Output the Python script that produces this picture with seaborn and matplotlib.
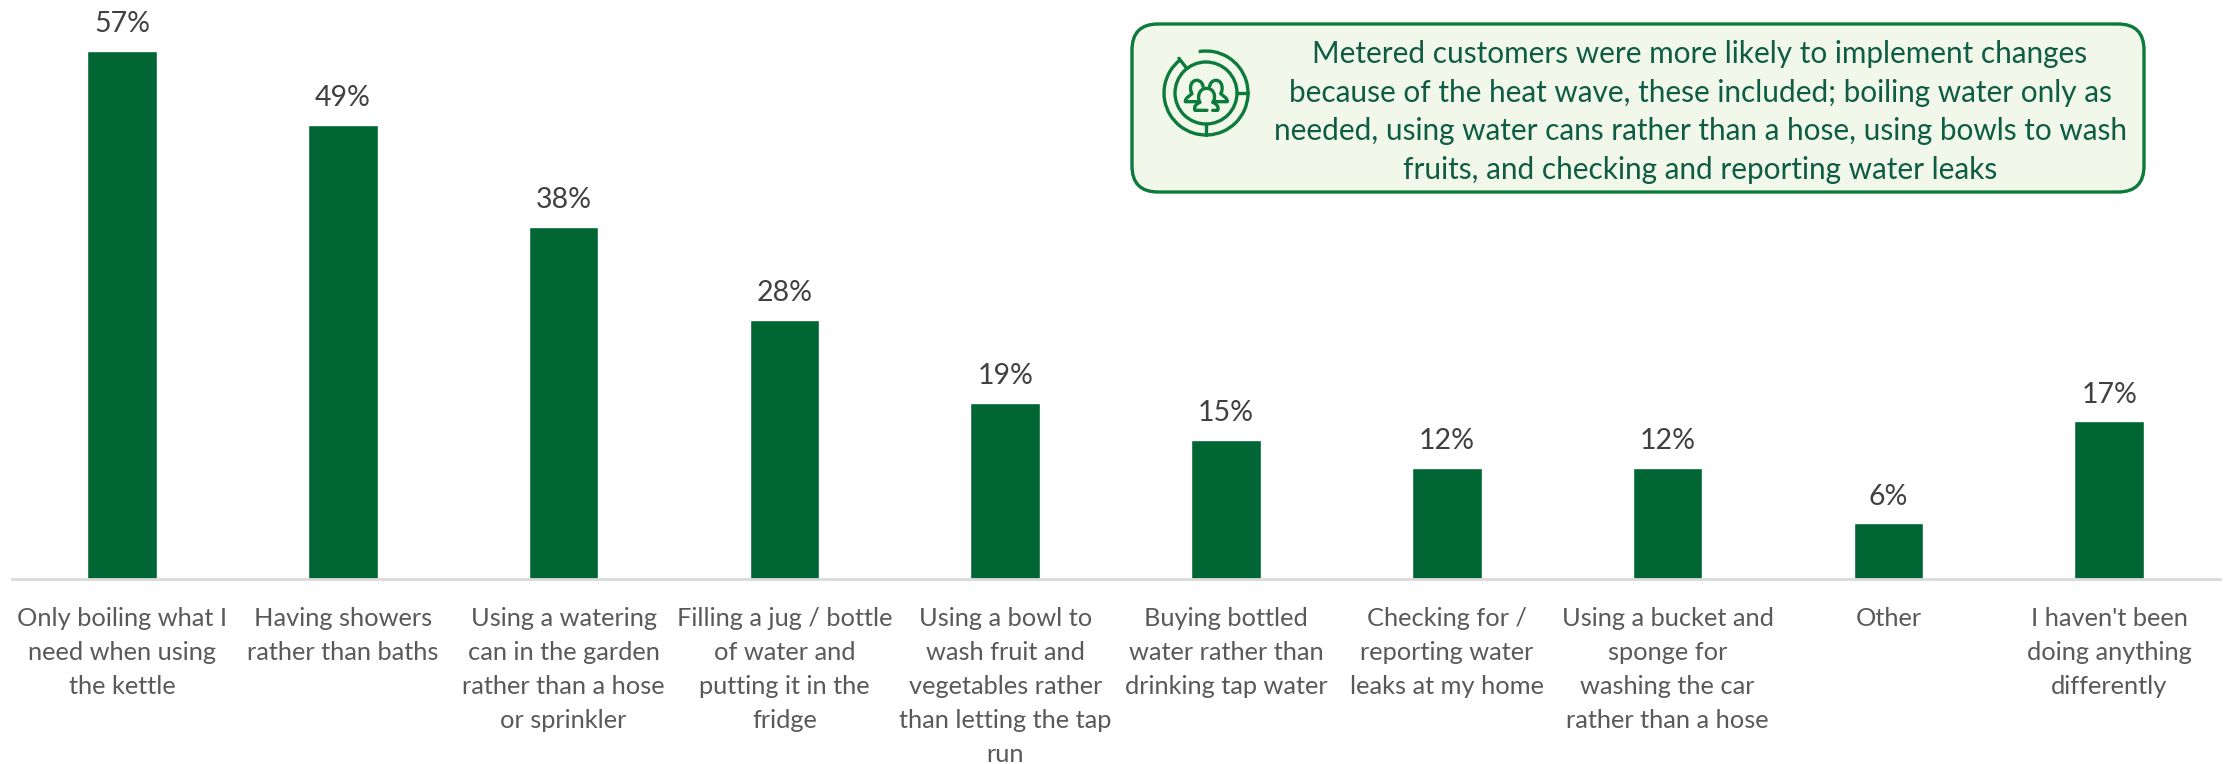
import numpy as np
import matplotlib
matplotlib.use("Agg")
import matplotlib.pyplot as plt
from matplotlib.patches import Arc, Circle, FancyBboxPatch, PathPatch
from matplotlib.path import Path
import seaborn as sns

categories = [
    "Only boiling what I\nneed when using\nthe kettle",
    "Having showers\nrather than baths",
    "Using a watering\ncan in the garden\nrather than a hose\nor sprinkler",
    "Filling a jug / bottle\nof water and\nputting it in the\nfridge",
    "Using a bowl to\nwash fruit and\nvegetables rather\nthan letting the tap\nrun",
    "Buying bottled\nwater rather than\ndrinking tap water",
    "Checking for /\nreporting water\nleaks at my home",
    "Using a bucket and\nsponge for\nwashing the car\nrather than a hose",
    "Other",
    "I haven't been\ndoing anything\ndifferently",
]
values = [57, 49, 38, 28, 19, 15, 12, 12, 6, 17]
callout = (
    "Metered customers were more likely to implement changes\n"
    "because of the heat wave, these included; boiling water only as\n"
    "needed, using water cans rather than a hose, using bowls to wash\n"
    "fruits, and checking and reporting water leaks"
)

W, H = 2226, 764
BAR_GREEN = "#006633"
LINE_GREEN = "#0B7A3B"

sns.set_theme(style="white")
plt.rcParams["font.family"] = ["Lato", "DejaVu Sans"]

fig = plt.figure(figsize=(W / 100, H / 100), dpi=100, facecolor="white")
ax = fig.add_axes([11.6 / W, 1 - 579 / H, 2208 / W, 579 / H])

sns.barplot(x=list(range(len(values))), y=values, color=BAR_GREEN, saturation=1,
            width=0.316, ax=ax)
ax.set_xlim(-0.5, 9.5)
ax.set_ylim(0, 579 / 9.265)
ax.set_yticks([])
ax.set_xticks(range(len(categories)))
ax.set_xticklabels(categories, fontsize=18.3, color="#595959", linespacing=1.58)
ax.tick_params(axis="x", length=0, pad=20)
ax.set_xlabel("")
ax.set_ylabel("")
sns.despine(ax=ax, left=True)
ax.spines["bottom"].set_color("#D9D9D9")
ax.spines["bottom"].set_linewidth(2)
ax.bar_label(ax.containers[0], fmt="%g%%", fontsize=20.5, color="#404040", padding=10)

# Overlay in pixel coordinates for the note and its icon
ov = fig.add_axes([0, 0, 1, 1], facecolor="none")
ov.set_xlim(0, W)
ov.set_ylim(H, 0)
ov.axis("off")
ov.add_patch(FancyBboxPatch((1132 + 26, 24 + 26), 1012 - 52, 168 - 52,
                            boxstyle="round,pad=26,rounding_size=26",
                            fc="#F1F8E9", ec=LINE_GREEN, lw=2.4))
ov.text(1700, 112, callout, ha="center", va="center", fontsize=21.4,
        color="#0F5C45", linespacing=1.46)

# Icon: two rings with three spokes and a group of people
cx, cy = 1206, 93
lw = 2.4
ov.add_patch(Circle((cx, cy), 31, fc="none", ec=LINE_GREEN, lw=lw))
ov.add_patch(Arc((cx, cy), 84, 84, theta1=-100, theta2=232, ec=LINE_GREEN, lw=lw))
for ang, r0, r1 in [(0, 31, 42), (90, 31, 42), (-128, 31, 44)]:
    a = np.radians(ang)
    ov.plot([cx + r0 * np.cos(a), cx + r1 * np.cos(a)],
            [cy + r0 * np.sin(a), cy + r1 * np.sin(a)], color=LINE_GREEN, lw=lw)


def outline(points, codes):
    """Stroke an open icon outline given as offsets from the icon centre."""
    verts = [(cx + px / 3, cy + py / 3) for px, py in points]
    return PathPatch(Path(verts, codes), fc="none", ec=LINE_GREEN, lw=lw,
                     capstyle="round", joinstyle="round")


back = [(-28, 26), (-62, 26), (-62, 14), (-48, 8), (-42, 2), (-50, -10), (-48, -38),
        (-28, -38), (-16, -38), (-10, -28), (-9, -20)]
back_codes = [Path.MOVETO, Path.LINETO] + [Path.CURVE4] * 9
front = [(3, 52), (-33, 52), (-38, 40), (-28, 32), (-18, 28), (-26, 18), (-24, -14),
         (2, -14), (28, -14), (30, 18), (20, 28), (30, 32), (40, 40), (35, 52), (20, 52)]
front_codes = [Path.MOVETO, Path.LINETO] + [Path.CURVE4] * 12 + [Path.LINETO]
ov.add_patch(outline(back, back_codes))
ov.add_patch(outline([(2 - px, py) for px, py in back], back_codes))
ov.add_patch(outline(front, front_codes))

fig.savefig("out.png", dpi=100, facecolor="white")
